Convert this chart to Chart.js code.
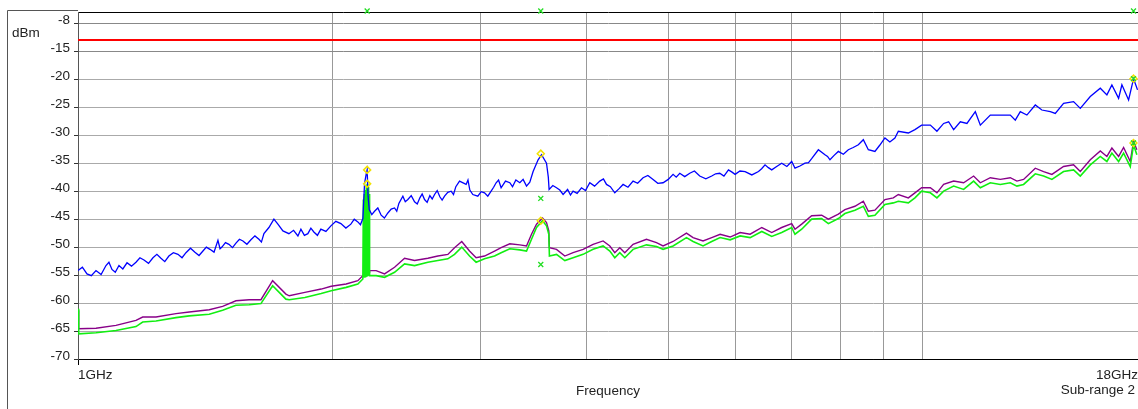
<!DOCTYPE html>
<html>
<head>
<meta charset="utf-8">
<script src="https://cdn.jsdelivr.net/npm/chart.js@4.4.0/dist/chart.umd.min.js"></script>
<style>
  html, body { margin: 0; padding: 0; background: #fff; }
  #wrap { position: relative; width: 1138px; height: 409px; }
</style>
</head>
<body>
<div id="wrap"><canvas id="spectrum" width="1138" height="409"></canvas></div>
<script>
// blue trace (peak)
const blueFreq = [
  1.000, 1.012, 1.0248, 1.037, 1.0503, 1.065, 1.0793, 1.088, 1.0970, 1.107,
  1.1182, 1.130, 1.1430, 1.157, 1.1713, 1.184, 1.1971, 1.212, 1.2268, 1.240,
  1.2538, 1.267, 1.2812, 1.297, 1.3134, 1.328, 1.3423, 1.359, 1.3756, 1.391,
  1.4059, 1.419, 1.4330, 1.449, 1.4646, 1.473, 1.4806, 1.495, 1.5092, 1.524,
  1.5383, 1.553, 1.5679, 1.585, 1.6024, 1.620, 1.6378, 1.649, 1.6603, 1.6830,
  1.7061, 1.7248, 1.7485, 1.7774, 1.800, 1.8215, 1.8364, 1.854, 1.8716, 1.887,
  1.9024, 1.921, 1.9391, 1.966, 1.9929, 2.020, 2.0479, 2.076, 2.1044, 2.124,
  2.1449, 2.160, 2.1744, 2.1845, 2.1953, 2.2000, 2.2055, 2.2126, 2.228, 2.2448,
  2.265, 2.2856, 2.306, 2.3278, 2.349, 2.3707, 2.385, 2.3987, 2.4250, 2.441,
  2.4583, 2.481, 2.5036, 2.522, 2.5401, 2.556, 2.5728, 2.591, 2.6102, 2.627,
  2.6439, 2.663, 2.6823, 2.699, 2.7169, 2.741, 2.7662, 2.784, 2.8018, 2.8302,
  2.8816, 2.896, 2.9108, 2.9347, 2.9749, 3.002, 3.0298, 3.057, 3.0848, 3.106,
  3.1271, 3.148, 3.1700, 3.208, 3.2461, 3.270, 3.300, 3.3358, 3.366, 3.3974,
  3.428, 3.4590, 3.5065, 3.5392, 3.5877, 3.6053, 3.6132, 3.650, 3.6868, 3.720,
  3.7538, 3.80, 3.83, 3.8574, 3.90, 3.9467, 3.99, 4.0372, 4.09, 4.1488,
  4.19, 4.2253, 4.27, 4.3219, 4.37, 4.4208, 4.48, 4.5428, 4.60, 4.6684,
  4.73, 4.7976, 4.86, 4.9300, 5.00, 5.0664, 5.11, 5.1599, 5.23, 5.3022,
  5.37, 5.4483, 5.54, 5.6296, 5.69, 5.7537, 5.82, 5.8924, 5.95, 6.0000,
  6.08, 6.1659, 6.28, 6.3954, 6.45, 6.5103, 6.57, 6.6305, 6.72, 6.8129,
  6.91, 7.0012, 7.0644, 7.16, 7.2594, 7.33, 7.3930, 7.5294, 7.6660, 7.72,
  7.7712, 7.86, 7.9510, 8.06, 8.1703, 8.28, 8.3963, 8.5114, 8.6286, 8.7850,
  8.90, 9.0277, 9.15, 9.2771, 9.3636, 9.6228, 9.7976, 9.9782, 10.218, 10.403,
  10.595, 10.740, 10.888, 11.088, 11.290, 11.551, 11.710, 12.033, 12.366, 12.707,
  12.881, 13.058, 13.295, 13.603, 13.850, 14.171, 14.365, 14.694, 15.100, 15.379,
  15.804, 16.241, 16.536, 16.763, 17.073, 17.227, 17.544, 17.783, 17.977
];
const blueLevel = [
  -54.2, -53.6, -54.8, -55.1, -54.2, -54.9, -53.3, -52.7, -54.0, -54.5,
  -53.3, -53.9, -52.8, -53.4, -52.7, -51.9, -52.3, -52.9, -51.9, -51.3,
  -52.0, -52.6, -51.6, -51.0, -51.3, -51.9, -51.0, -50.2, -50.9, -51.5,
  -50.7, -50.0, -50.4, -50.9, -48.8, -50.3, -50.0, -49.2, -49.5, -50.1,
  -49.3, -48.6, -48.9, -49.5, -48.7, -48.0, -48.6, -49.1, -47.6, -46.5,
  -45.0, -45.9, -47.1, -47.6, -47.0, -48.0, -46.8, -47.9, -47.6, -46.6,
  -47.3, -47.9, -46.8, -47.2, -46.2, -45.4, -45.8, -46.6, -45.9, -45.0,
  -45.5, -46.0, -44.9, -38.6, -36.8, -36.2, -40.9, -43.3, -44.2, -43.6,
  -43.0, -44.3, -44.8, -43.9, -43.2, -43.0, -43.6, -42.2, -40.9, -41.9,
  -41.5, -40.8, -41.9, -42.3, -41.2, -40.5, -41.5, -42.0, -40.8, -41.4,
  -40.6, -39.9, -41.0, -41.6, -40.9, -40.2, -40.0, -40.6, -39.2, -38.2,
  -38.8, -38.0, -39.8, -40.6, -40.9, -40.1, -40.3, -40.9, -40.0, -39.3,
  -38.5, -38.0, -39.4, -38.2, -38.5, -39.2, -38.0, -38.5, -37.9, -39.1,
  -38.4, -36.5, -34.4, -33.5, -35.0, -37.5, -39.7, -39.0, -39.4, -39.8,
  -40.6, -39.7, -40.7, -40.0, -40.4, -39.4, -39.9, -38.5, -39.1, -38.2,
  -37.8, -38.8, -39.2, -40.3, -39.6, -38.8, -39.3, -38.2, -38.6, -37.6,
  -37.2, -37.9, -38.6, -38.5, -37.9, -37.0, -37.5, -36.8, -37.4, -36.8,
  -36.4, -37.3, -37.8, -37.3, -36.9, -36.8, -37.3, -36.2, -36.6, -37.0,
  -36.4, -36.5, -37.1, -36.5, -36.0, -35.3, -35.8, -36.2, -35.6, -35.0,
  -35.6, -34.7, -35.9, -35.5, -35.0, -34.9, -34.2, -32.6, -33.5, -33.8,
  -34.4, -33.6, -32.9, -33.4, -32.6, -32.2, -31.7, -30.8, -32.6, -32.9,
  -31.8, -30.5, -31.2, -30.5, -29.3, -29.6, -29.0, -28.2, -28.2, -29.3,
  -27.9, -27.6, -29.0, -27.6, -27.9, -25.8, -28.2, -26.4, -26.4, -26.4,
  -27.3, -25.8, -26.4, -24.6, -25.5, -25.8, -26.1, -24.3, -24.0, -25.2,
  -23.1, -21.6, -22.8, -21.0, -23.4, -21.0, -23.7, -19.9, -21.9
];

// purple and green traces share one frequency list
const traceFreq = [
  1.0000, 1.0019, 1.0503, 1.1091, 1.1713, 1.1929, 1.2370, 1.3062, 1.3544, 1.4302,
  1.4834, 1.5383, 1.5950, 1.6468, 1.7001, 1.7628, 1.7789, 1.8563, 1.9409, 1.9945,
  2.0777, 2.1449, 2.1744, 2.1774, 2.1803, 2.1833, 2.1863, 2.1893, 2.1923, 2.1953,
  2.1983, 2.2000, 2.2025, 2.2055, 2.2085, 2.2116, 2.2146, 2.2546, 2.3069, 2.3707,
  2.4363, 2.5036, 2.5961, 2.6678, 2.7415, 2.7918, 2.8474, 2.9084, 2.9612, 3.0298,
  3.1135, 3.1700, 3.2461, 3.3358, 3.3974, 3.4439, 3.4913, 3.5489, 3.5877, 3.6103,
  3.6162, 3.6868, 3.7714, 3.8574, 3.9642, 4.0734, 4.1863, 4.2637, 4.3219, 4.3812,
  4.4413, 4.5428, 4.7117, 4.8422, 4.9300, 5.0664, 5.2548, 5.3503, 5.4976, 5.6296,
  5.7601, 5.9197, 6.0830, 6.2510, 6.4531, 6.6305, 6.8129, 7.0012, 7.0644, 7.1944,
  7.3930, 7.5972, 7.7373, 7.9510, 8.0948, 8.3189, 8.5114, 8.6286, 8.7850, 9.0277,
  9.2368, 9.3636, 9.6228, 9.7976, 9.9782, 10.218, 10.403, 10.595, 10.888, 11.189,
  11.498, 11.710, 12.033, 12.366, 12.707, 12.938, 13.176, 13.603, 13.915, 14.234,
  14.694, 15.100, 15.379, 15.804, 16.241, 16.536, 16.763, 17.073, 17.307, 17.624,
  17.783, 17.944
];
const purpleLevel = [
  -61.3, -64.6, -64.5, -64.0, -63.1, -62.5, -62.5, -61.9, -61.6, -61.2,
  -60.6, -59.6, -59.4, -59.4, -56.0, -58.4, -58.7, -58.1, -57.5, -57.0,
  -56.6, -56.0, -55.1, -55.0, -55.0, -55.0, -55.0, -55.0, -55.0, -55.0,
  -55.0, -55.0, -54.8, -54.8, -54.6, -54.5, -54.2, -54.2, -54.8, -53.6,
  -52.0, -52.4, -52.0, -51.6, -51.3, -50.1, -49.0, -50.7, -51.9, -51.6,
  -50.7, -50.1, -49.4, -49.6, -49.8, -47.7, -45.9, -44.8, -45.6, -47.1,
  -50.1, -50.4, -51.6, -51.0, -50.4, -49.5, -48.9, -49.8, -51.0, -50.1,
  -51.0, -49.5, -48.6, -49.2, -49.8, -49.0, -47.5, -48.3, -48.9, -48.3,
  -47.7, -48.2, -47.4, -47.7, -46.5, -47.4, -46.5, -45.8, -46.8, -45.9,
  -44.4, -44.3, -45.0, -44.1, -43.3, -42.7, -41.8, -43.6, -43.4, -41.5,
  -41.2, -40.6, -41.2, -40.3, -39.4, -39.4, -40.3, -38.8, -38.2, -38.5,
  -37.3, -38.5, -37.6, -37.9, -37.6, -38.2, -37.9, -35.9, -36.5, -37.0,
  -35.6, -35.3, -36.5, -34.4, -32.8, -33.8, -32.3, -33.8, -32.2, -34.7,
  -31.1, -32.6
];
const greenLevel = [
  -61.0, -65.5, -65.3, -64.9, -64.2, -63.4, -63.2, -62.6, -62.3, -62.0,
  -61.3, -60.4, -60.3, -60.1, -56.9, -59.3, -59.4, -59.0, -58.3, -57.8,
  -57.2, -56.6, -55.7, -41.5, -55.5, -40.5, -55.5, -39.8, -55.4, -39.0,
  -55.3, -38.7, -55.2, -39.2, -55.1, -40.5, -55.1, -55.1, -55.4, -54.5,
  -53.0, -53.3, -52.7, -52.4, -52.1, -51.3, -50.0, -51.6, -52.7, -52.1,
  -51.6, -51.0, -50.3, -50.5, -50.7, -48.6, -46.5, -45.3, -46.2, -47.7,
  -51.6, -51.3, -52.4, -51.9, -51.3, -50.4, -49.8, -50.7, -51.9, -51.0,
  -51.9, -50.4, -49.6, -49.9, -50.4, -49.8, -48.3, -49.0, -49.8, -49.0,
  -48.3, -48.7, -48.0, -48.3, -47.2, -48.1, -47.4, -46.5, -47.7, -46.8,
  -45.0, -44.9, -45.8, -44.9, -44.0, -43.4, -42.7, -44.5, -44.3, -42.4,
  -42.1, -41.8, -42.1, -41.2, -40.0, -40.3, -41.2, -40.0, -39.1, -39.7,
  -38.2, -39.4, -38.5, -38.8, -38.5, -39.1, -38.8, -36.9, -37.3, -37.9,
  -36.5, -36.2, -37.3, -35.3, -33.8, -34.7, -33.2, -34.7, -33.2, -35.6,
  -31.7, -33.5
];

// limit line and markers
const limitLevel = -13;
const peakMarkFreq = [2.2, 2.2, 3.532, 3.532, 17.78, 17.78];
const peakMarkLevel = [-36.2, -38.7, -33.3, -45.3, -19.9, -31.4];
const crossMarkFreq = [2.2, 3.532, 17.78, 3.532, 3.532, 17.78, 17.78];
const crossMarkLevel = [-7.8, -7.8, -7.8, -41.3, -53.1, -19.9, -31.4];

// axes
const freqMin = 1;
const freqMax = 18;
const freqGrid = [1, 2, 3, 4, 5, 6, 7, 8, 9, 10, 18];
const freqLabels = { 1: '1GHz', 18: '18GHz' };
const levelMin = -70;
const levelMax = -8;
const levelGrid = [-8, -10, -15, -20, -25, -30, -35, -40, -45, -50, -55, -60, -65, -70];
const levelLabels = { '-8': '', '-10': '-8' };

const FONT = "'Liberation Sans', Arial, sans-serif";
const TEXT = '#222';

function points(xs, ys) {
  return xs.map((x, i) => ({x: x, y: ys[i]}));
}

const framePlugin = {
  id: 'frame',
  beforeDraw(chart) {
    const c = chart.ctx;
    c.save();
    c.fillStyle = '#fff';
    c.fillRect(0, 0, chart.width, chart.height);
    c.strokeStyle = '#555';
    c.lineWidth = 1;
    c.beginPath();
    c.moveTo(7.5, chart.height);
    c.lineTo(7.5, 10.5);
    c.lineTo(chart.chartArea.left, 10.5);
    c.stroke();
    c.restore();
  },
  afterDraw(chart) {
    const c = chart.ctx;
    c.save();
    c.fillStyle = TEXT;
    c.font = '13.5px ' + FONT;
    c.textBaseline = 'middle';
    c.textAlign = 'left';
    c.fillText('dBm', 12, 33);
    c.textAlign = 'right';
    c.fillText('Sub-range 2', 1135, 390);
    c.restore();
  }
};

function initChart() {
  const ctx = document.getElementById('spectrum');
  new Chart(ctx, {
    type: 'line',
    data: {
      datasets: [{
        data: points(crossMarkFreq, crossMarkLevel),
        showLine: false,
        pointStyle: 'crossRot',
        pointRadius: 3.5,
        pointBorderColor: '#22dd22',
        pointBorderWidth: 1.3,
        clip: false,
        order: 0
      }, {
        data: points(peakMarkFreq, peakMarkLevel),
        showLine: false,
        pointStyle: 'rectRot',
        pointRadius: 3.5,
        pointBackgroundColor: 'rgba(0,0,0,0)',
        pointBorderColor: '#f2e200',
        pointBorderWidth: 1.5,
        order: 1
      }, {
        data: points(blueFreq, blueLevel),
        borderColor: '#0000ff',
        borderWidth: 1.3,
        pointRadius: 0,
        order: 2
      }, {
        data: points(traceFreq, greenLevel),
        borderColor: '#11ee11',
        borderWidth: 1.6,
        pointRadius: 0,
        order: 3
      }, {
        data: points(traceFreq, purpleLevel),
        borderColor: '#880088',
        borderWidth: 1.4,
        pointRadius: 0,
        order: 4
      }, {
        data: points([freqMin, freqMax], [limitLevel, limitLevel]),
        borderColor: '#ff0000',
        borderWidth: 2,
        pointRadius: 0,
        order: 5
      }]
    },
    options: {
      responsive: false,
      devicePixelRatio: 1,
      animation: false,
      layout: {autoPadding: false, padding: {top: 10, left: 0, right: 0, bottom: 0}},
      plugins: {legend: {display: false}, tooltip: {enabled: false}},
      elements: {line: {tension: 0, fill: false}},
      scales: {
        x: {
          type: 'logarithmic',
          position: 'bottom',
          min: freqMin,
          max: freqMax,
          afterBuildTicks: (scale) => { scale.ticks = freqGrid.map(v => ({value: v})); },
          afterFit: (scale) => {
            scale.height = 50;
            scale.paddingLeft = 0;
            scale.paddingRight = 0;
          },
          ticks: {
            autoSkip: false,
            maxRotation: 0,
            align: 'inner',
            padding: 2,
            color: TEXT,
            font: {family: FONT, size: 13.5},
            callback: (v) => freqLabels[v] || ''
          },
          grid: {
            color: (c) => (c.tick && (c.tick.value === 1 || c.tick.value === 18)) ? 'rgba(0,0,0,0)' : '#999',
            tickLength: 6,
            tickColor: (c) => (c.tick && c.tick.value === 1) ? '#000' : 'rgba(0,0,0,0)'
          },
          border: {color: '#000', width: 1},
          title: {
            display: true,
            text: 'Frequency',
            color: TEXT,
            font: {family: FONT, size: 13.5},
            padding: {top: 0, bottom: 10}
          }
        },
        y: {
          type: 'linear',
          position: 'left',
          min: levelMin,
          max: levelMax,
          afterBuildTicks: (scale) => { scale.ticks = levelGrid.map(v => ({value: v})); },
          afterFit: (scale) => { scale.width = 78; },
          ticks: {
            padding: 4,
            labelOffset: -3,
            color: TEXT,
            font: {family: FONT, size: 13.5},
            callback: (v) => (String(v) in levelLabels) ? levelLabels[String(v)] : String(v)
          },
          grid: {
            color: (c) => {
              const v = c.tick ? c.tick.value : 0;
              if (v === -8 || v === -70) return '#000';
              if (v === -10 || v === -15) return '#888';
              return '#aaa';
            },
            tickLength: 4,
            tickColor: (c) => (c.tick && c.tick.value === -8) ? 'rgba(0,0,0,0)' : '#333'
          },
          border: {color: '#555', width: 1}
        }
      }
    },
    plugins: [framePlugin]
  });
}

document.addEventListener('DOMContentLoaded', () => {
  initChart();
});
</script>
</body>
</html>
